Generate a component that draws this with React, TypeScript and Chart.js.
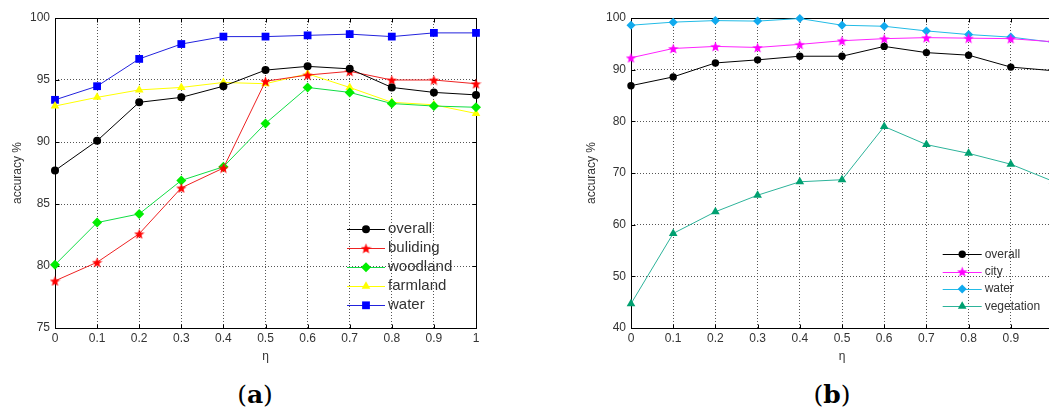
import React, { useEffect, useRef } from 'react';
import { Chart, registerables } from 'chart.js';
import { drawPoint } from 'chart.js/helpers';

Chart.register(...registerables);
Chart.defaults.font.family = "'Liberation Sans', Arial, sans-serif";

// ---- data ----
const etaLabels = ['0', '0.1', '0.2', '0.3', '0.4', '0.5', '0.6', '0.7', '0.8', '0.9', '1'];

// chart (a)
const overallA = [87.7, 90.1, 93.2, 93.6, 94.5, 95.8, 96.1, 95.9, 94.4, 94.0, 93.8];
const buildingA = [78.8, 80.3, 82.6, 86.3, 87.9, 94.9, 95.4, 95.7, 95.0, 95.0, 94.7];
const woodlandA = [80.1, 83.5, 84.2, 86.9, 88.0, 91.5, 94.4, 94.0, 93.1, 92.9, 92.8];
const farmlandA = [92.9, 93.6, 94.2, 94.4, 94.8, 94.7, 95.5, 94.4, 93.2, 93.0, 92.3];
const waterA = [93.4, 94.5, 96.7, 97.9, 98.5, 98.5, 98.6, 98.7, 98.5, 98.8, 98.8];

// chart (b)
const overallB = [86.9, 88.6, 91.3, 91.9, 92.6, 92.6, 94.5, 93.3, 92.8, 90.5, 89.8];
const cityB = [92.3, 94.1, 94.5, 94.3, 94.9, 95.6, 96.0, 96.2, 96.1, 96.0, 95.4];
const waterB = [98.6, 99.2, 99.5, 99.4, 99.9, 98.6, 98.4, 97.5, 96.8, 96.3, 95.3];
const vegetationB = [44.7, 58.3, 62.5, 65.7, 68.3, 68.7, 79.0, 75.5, 73.8, 71.7, 68.4];

const yTitle = 'accuracy %';
const xTitle = 'η';

function makeStar(color: string, size: number): HTMLCanvasElement {
  const c = document.createElement('canvas');
  c.width = size;
  c.height = size;
  const ctx = c.getContext('2d')!;
  const cx = size / 2;
  const cy = size / 2 + 0.6;
  const R = size / 2;
  const r = R * 0.42;
  ctx.beginPath();
  for (let i = 0; i < 10; i++) {
    const ang = -Math.PI / 2 + (i * Math.PI) / 5;
    const rad = i % 2 === 0 ? R : r;
    const x = cx + rad * Math.cos(ang);
    const y = cy + rad * Math.sin(ang);
    if (i === 0) ctx.moveTo(x, y);
    else ctx.lineTo(x, y);
  }
  ctx.closePath();
  ctx.fillStyle = color;
  ctx.fill();
  return c;
}

const legendPlugin = {
  id: 'inlineLegend',
  afterDraw(chart: any, _args: any, opts: any) {
    const { ctx } = chart;
    const { x, y, lineLen, gap, rowH, font, color } = opts;
    chart.data.datasets.forEach((ds: any, i: number) => {
      const yy = y + i * rowH;
      ctx.save();
      ctx.strokeStyle = ds.borderColor;
      ctx.lineWidth = 1;
      ctx.beginPath();
      ctx.moveTo(x, Math.round(yy) + 0.5);
      ctx.lineTo(x + lineLen, Math.round(yy) + 0.5);
      ctx.stroke();
      ctx.fillStyle = ds.pointBackgroundColor;
      ctx.strokeStyle = ds.pointBorderColor;
      ctx.lineWidth = ds.pointBorderWidth || 0;
      drawPoint(
        ctx,
        { pointStyle: ds.pointStyle, radius: ds.pointRadius, rotation: 0, borderWidth: ds.pointBorderWidth || 0 } as any,
        x + lineLen / 2,
        yy
      );
      ctx.fillStyle = color;
      ctx.font = font;
      ctx.textBaseline = 'middle';
      ctx.textAlign = 'left';
      ctx.fillText(ds.label, x + lineLen + gap, yy);
      ctx.restore();
    });
  },
};

const framePlugin = {
  id: 'frame',
  beforeDatasetsDraw(chart: any) {
    const { ctx, chartArea } = chart;
    const xs = chart.scales.x;
    const ys = chart.scales.y;
    const L = Math.round(chartArea.left) + 0.5;
    const T = Math.round(chartArea.top) + 0.5;
    const R = Math.round(chartArea.right) + 0.5;
    const B = Math.round(chartArea.bottom) + 0.5;
    ctx.save();
    ctx.strokeStyle = '#000';
    ctx.lineWidth = 1;
    ctx.setLineDash([]);
    ctx.strokeRect(L, T, R - L, B - T);
    const tl = 4;
    ctx.beginPath();
    xs.ticks.forEach((_: any, i: number) => {
      const px = Math.round(xs.getPixelForTick(i)) + 0.5;
      ctx.moveTo(px, B);
      ctx.lineTo(px, B - tl);
      ctx.moveTo(px, T);
      ctx.lineTo(px, T + tl);
    });
    ys.ticks.forEach((_: any, i: number) => {
      const py = Math.round(ys.getPixelForTick(i)) + 0.5;
      ctx.moveTo(L, py);
      ctx.lineTo(L + tl, py);
      ctx.moveTo(R, py);
      ctx.lineTo(R - tl, py);
    });
    ctx.stroke();
    ctx.restore();
  },
};

function series(label: string, data: number[], line: string, marker: any, style: any, radius: number) {
  return {
    label,
    data,
    borderColor: line,
    backgroundColor: typeof marker === 'string' ? marker : line,
    borderWidth: 1,
    pointStyle: style,
    pointRadius: radius,
    pointHoverRadius: radius,
    pointBackgroundColor: typeof marker === 'string' ? marker : line,
    pointBorderColor: typeof marker === 'string' ? marker : line,
    pointBorderWidth: 0,
    tension: 0,
    clip: false,
    fill: false,
  };
}

function makeConfig(p: {
  datasets: any[];
  yMin: number;
  yMax: number;
  yStep: number;
  yAxisWidth: number;
  yTitlePad: number;
  padRight: number;
  legend: any;
}) {
  const gridColor = '#555';
  const tickColor = '#333';
  return {
    type: 'line',
    data: { labels: etaLabels, datasets: p.datasets },
    plugins: [framePlugin, legendPlugin],
    options: {
      responsive: false,
      maintainAspectRatio: false,
      animation: false,
      events: [],
      layout: { padding: { top: 18, right: p.padRight, left: 0, bottom: 0 } },
      plugins: {
        legend: { display: false },
        title: { display: false },
        tooltip: { enabled: false },
        inlineLegend: p.legend,
      },
      scales: {
        x: {
          type: 'category',
          offset: false,
          grid: { color: gridColor, lineWidth: 1, drawTicks: false },
          border: { display: false, dash: [1, 2] },
          ticks: { color: tickColor, font: { size: 12 }, padding: 3, maxRotation: 0, autoSkip: false },
          title: { display: true, text: xTitle, color: tickColor, font: { size: 12 }, padding: { top: 0, bottom: 0 } },
          afterFit: (s: any) => {
            s.height = 36;
          },
        },
        y: {
          type: 'linear',
          min: p.yMin,
          max: p.yMax,
          grid: { color: gridColor, lineWidth: 1, drawTicks: false },
          border: { display: false, dash: [1, 2] },
          ticks: { stepSize: p.yStep, color: tickColor, font: { size: 12 }, padding: 5 },
          title: { display: true, text: yTitle, color: tickColor, font: { size: 12 }, padding: { top: p.yTitlePad, bottom: 0 } },
          afterFit: (s: any) => {
            s.width = p.yAxisWidth;
          },
        },
      },
    },
  };
}

function ChartCanvas({ config, left, top, width, height }: any) {
  const ref = useRef<HTMLCanvasElement>(null);
  useEffect(() => {
    if (!ref.current) return;
    const chart = new Chart(ref.current, config as any);
    return () => chart.destroy();
  }, []);
  return (
    <canvas
      ref={ref}
      width={width}
      height={height}
      style={{ position: 'absolute', left, top, width, height, display: 'block' }}
    />
  );
}

export default function App() {
  const redStar = makeStar('#ff0000', 11);
  const magentaStar = makeStar('#ff00ff', 11);

  const configA = makeConfig({
    datasets: [
      series('overall', overallA, '#000000', '#000000', 'circle', 4),
      series('buliding', buildingA, '#ee2222', redStar, redStar, 5),
      series('woodland', woodlandA, '#11dd44', '#00ee00', 'rectRot', 5),
      series('farmland', farmlandA, '#ffff00', '#ffff00', 'triangle', 5),
      series('water', waterA, '#2222dd', '#0000ff', 'rect', 5.5),
    ].map((d, i) => {
      if (i === 1) {
        d.pointBackgroundColor = '#ff0000';
        d.pointBorderColor = '#ff0000';
      }
      return d;
    }),
    yMin: 75,
    yMax: 100,
    yStep: 5,
    yAxisWidth: 55,
    yTitlePad: 10,
    padRight: 24,
    legend: { x: 347, y: 229.3, lineLen: 38, gap: 3, rowH: 19, font: "15px 'Liberation Sans', Arial, sans-serif", color: '#333' },
  });

  const configB = makeConfig({
    datasets: [
      series('overall', overallB, '#000000', '#000000', 'circle', 3.7),
      series('city', cityB, '#ff22ff', magentaStar, magentaStar, 5),
      series('water', waterB, '#22bbe6', '#11aaee', 'rectRot', 4.5),
      series('vegetation', vegetationB, '#2db39a', '#00a070', 'triangle', 5),
    ].map((d, i) => {
      if (i === 1) {
        d.pointBackgroundColor = '#ff00ff';
        d.pointBorderColor = '#ff00ff';
      }
      return d;
    }),
    yMin: 40,
    yMax: 100,
    yStep: 10,
    yAxisWidth: 71,
    yTitlePad: 24,
    padRight: 20,
    legend: { x: 382.7, y: 254.3, lineLen: 39, gap: 3, rowH: 17.3, font: "12px 'Liberation Sans', Arial, sans-serif", color: '#333' },
  });

  const captionStyle: React.CSSProperties = {
    position: 'absolute',
    top: 381,
    width: 100,
    textAlign: 'center',
    fontFamily: "'DejaVu Serif', 'Liberation Serif', serif",
    fontSize: 25,
    lineHeight: '28px',
    color: '#000',
  };

  return (
    <div
      style={{
        position: 'absolute',
        left: 0,
        top: 0,
        width: 1049,
        height: 412,
        overflow: 'hidden',
        background: '#fff',
      }}
    >
      <ChartCanvas config={configA} left={0} top={0} width={500} height={364} />
      <ChartCanvas config={configB} left={560} top={0} width={513} height={364} />
      <div style={{ ...captionStyle, left: 205 }}>
        (<b>a</b>)
      </div>
      <div style={{ ...captionStyle, left: 782 }}>
        (<b>b</b>)
      </div>
    </div>
  );
}
